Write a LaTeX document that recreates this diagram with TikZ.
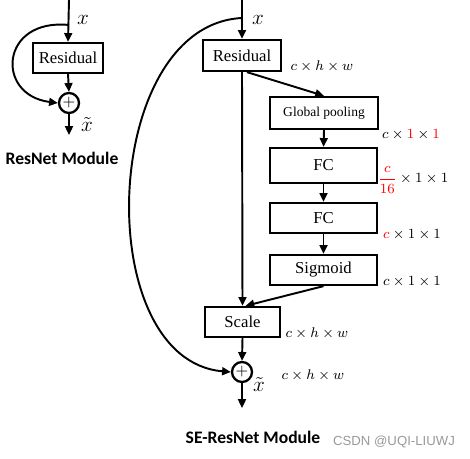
\documentclass[tikz,border=0pt]{standalone}
\usepackage{amsmath}
\usepackage{xcolor}
\usepackage{fontspec}
\setmainfont{Liberation Serif}
\newfontfamily\titlefont{Carlito}
\newfontfamily\markfont{Liberation Sans}
\usepackage{tikz}
\usetikzlibrary{positioning, arrows.meta, calc}

\tikzset{
  block/.style={draw, line width=1.3pt, inner sep=0pt, font=\fontsize{9.5}{11}\selectfont},
  sumnode/.style={circle, draw, line width=1.3pt, inner sep=0pt, minimum size=0.4cm, font=\small},
  conn/.style={line width=1.1pt, -{Triangle[length=5pt,width=4.5pt]}},
  dimlbl/.style={font=\footnotesize, inner sep=0pt},
  modtitle/.style={font=\titlefont\bfseries\fontsize{10}{12}\selectfont, inner sep=0pt}
}

\begin{document}
\begin{tikzpicture}[x=0.02cm, y=-0.02cm]
        \useasboundingbox (0,0) rectangle (470,459);

        % ResNet module
        \coordinate (inL) at (69,0);
        \node[block, minimum width=1.4cm, minimum height=0.6cm] (resL) at (68,58) {Residual};
        \node[sumnode] (sumL) at (69,103) {$+$};
        \coordinate (outL) at (69,135);
        \coordinate (tapL) at (69,25);
        \node at (83,20) {\large$x$};
        \node at (87,125) {\large$\tilde{x}$};

        \draw[conn] (inL) -- (resL.north);
        \draw[conn] (resL.south) -- (sumL.north);
        \draw[conn] (sumL.south) -- (outL);
        \draw[conn] (tapL) .. controls (0,18) and (-5,95) .. (sumL.west);

        \node[modtitle] (titleL) at (62,158) {ResNet Module};

        % SE-ResNet module
        \coordinate (inR) at (242,0);
        \node[block, minimum width=1.56cm, minimum height=0.62cm] (resR) at (242,55.5) {Residual};
        \node[block, minimum width=2.16cm, minimum height=0.64cm, font=\fontsize{7.7}{9}\selectfont] (gp) at (324,113) {Global pooling};
        \node[block, minimum width=2.14cm, minimum height=0.7cm] (fcA) at (323.5,165.5) {FC};
        \node[block, minimum width=2.14cm, minimum height=0.6cm] (fcB) at (323.5,218) {FC};
        \node[block, minimum width=2.14cm, minimum height=0.6cm] (sig) at (323.5,270) {Sigmoid};
        \node[block, minimum width=1.5cm, minimum height=0.6cm] (scale) at (242.5,322) {Scale};
        \node[sumnode] (sumR) at (242,372) {$+$};
        \coordinate (outR) at (242,408);
        \coordinate (tapR) at (242,18);

        \node at (258,20) {\large$x$};
        \node at (259,385) {\large$\tilde{x}$};

        \draw[conn] (inR) -- (resR.north);
        \draw[conn] (resR.south) -- (scale.north);
        \draw[conn] ([xshift=0.1cm]resR.south) -- (gp.north);
        \draw[conn] (gp.south) -- (fcA.north);
        \draw[conn] (fcA.south) -- (fcB.north);
        \draw[conn] (fcB.south) -- (sig.north);
        \draw[conn] (sig.south) -- ([xshift=0.06cm]scale.north);
        \draw[conn] (scale.south) -- (sumR.north);
        \draw[conn] (sumR.south) -- (outR);
        \draw[conn] (tapR) .. controls (100,25) and (90,360) .. (sumR.west);

        % tensor sizes
        \node[dimlbl] (dimRes) at (322,66) {$c\times h\times w$};
        \node[dimlbl] (dimGP) at (411,135) {$c\times{\color{red}1}\times{\color{red}1}$};
        \node[dimlbl] (dimFcA) at (413,180) {${\color{red}\dfrac{c}{16}}\times 1\times 1$};
        \node[dimlbl] (dimFcB) at (412,235) {${\color{red}c}\times 1\times 1$};
        \node[dimlbl] (dimSig) at (412,282) {$c\times 1\times 1$};
        \node[dimlbl] (dimScale) at (317,333) {$c\times h\times w$};
        \node[dimlbl] (dimOut) at (313,375) {$c\times h\times w$};

        \node[modtitle] (titleR) at (253,437) {SE-ResNet Module};
        \node[font=\markfont\fontsize{7.5}{9}\selectfont, text=black!40, inner sep=0pt] (mark) at (394,442) {CSDN @UQI-LIUWJ};
      \end{tikzpicture}
\end{document}
